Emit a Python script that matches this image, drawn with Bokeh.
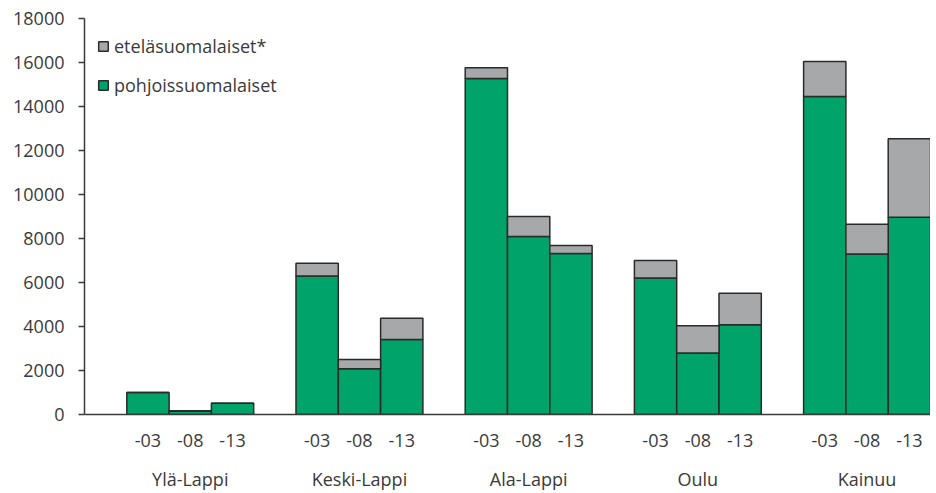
from bokeh.plotting import figure
from bokeh.models import LinearAxis, FixedTicker, Range1d, ColumnDataSource, Legend, LegendItem
from bokeh.embed import file_html
from bokeh.resources import INLINE

regions = ["Ylä-Lappi", "Keski-Lappi", "Ala-Lappi", "Oulu", "Kainuu"]
years = ["-03", "-08", "-13"]
# pohjoissuomalaiset (green) per region, per year
pohjoiset = [
    [1000, 150, 510],
    [6300, 2080, 3410],
    [15270, 8090, 7320],
    [6210, 2790, 4080],
    [14450, 7290, 8970],
]
# eteläsuomalaiset* (grey) per region, per year
etelaiset = [
    [0, 20, 0],
    [580, 420, 970],
    [490, 910, 360],
    [790, 1240, 1430],
    [1600, 1360, 3560],
]
y_ticks = [0, 2000, 4000, 6000, 8000, 10000, 12000, 14000, 16000, 18000]

GREEN = "#00A36A"
GREY = "#A7A8AA"
EDGE = "#2B2A2B"
TEXT = "#3A3A3A"
FONT = "Open Sans"
FS = "18px"

xs, green, grey, xlabels = [], [], [], {}
for gi, reg in enumerate(regions):
    for yi, yr in enumerate(years):
        x = gi * 4 + yi + 1.5
        xs.append(x)
        green.append(pohjoiset[gi][yi])
        grey.append(etelaiset[gi][yi])
        xlabels[x] = yr
group_centers = {gi * 4 + 2.5: reg for gi, reg in enumerate(regions)}

src = ColumnDataSource(dict(x=xs, pohjoiset=green, etelaiset=grey))

p = figure(width=930, height=493, output_backend="svg", toolbar_location=None,
           x_range=Range1d(0, 20), y_range=Range1d(0, 18000),
           min_border_left=84, min_border_right=0, min_border_top=18, min_border_bottom=79,
           x_axis_type=None)
p.outline_line_color = None
p.grid.visible = False
p.background_fill_color = "white"
p.border_fill_color = "white"

rs = p.vbar_stack(["pohjoiset", "etelaiset"], x="x", width=1.0, source=src,
                  fill_color=[GREEN, GREY], line_color=EDGE, line_width=1.5)

# y axis
ya = p.yaxis[0]
ya.ticker = FixedTicker(ticks=y_ticks)
ya.minor_tick_line_color = None
ya.major_tick_in = 0
ya.major_tick_out = 6
ya.major_label_standoff = 14
ya.axis_line_color = TEXT
ya.axis_line_width = 1.5
ya.major_tick_line_color = TEXT
ya.major_tick_line_width = 1.5
ya.major_label_text_font = FONT
ya.major_label_text_font_size = FS
ya.major_label_text_color = TEXT

# x axis: years
xa = LinearAxis(ticker=FixedTicker(ticks=xs), major_label_overrides=xlabels)
xa.major_tick_line_color = None
xa.minor_tick_line_color = None
xa.major_tick_out = 0
xa.major_tick_in = 0
xa.major_label_standoff = 19
xa.axis_line_color = TEXT
xa.axis_line_width = 1.5
xa.major_label_text_font = FONT
xa.major_label_text_font_size = FS
xa.major_label_text_color = TEXT
p.add_layout(xa, "below")

# x axis: regions
ga = LinearAxis(ticker=FixedTicker(ticks=list(group_centers.keys())),
                major_label_overrides=group_centers)
ga.axis_line_color = None
ga.major_tick_line_color = None
ga.minor_tick_line_color = None
ga.major_tick_out = 0
ga.major_tick_in = 0
ga.major_label_standoff = 17
ga.major_label_text_font = FONT
ga.major_label_text_font_size = FS
ga.major_label_text_color = TEXT
p.add_layout(ga, "below")

legend = Legend(items=[LegendItem(label="eteläsuomalaiset*", renderers=[rs[1]]),
                       LegendItem(label="pohjoissuomalaiset", renderers=[rs[0]])],
                location="top_left")
legend.margin = 13
legend.padding = 0
legend.spacing = 9
legend.label_height = 30
legend.glyph_height = 12
legend.glyph_width = 12
legend.label_standoff = 5
legend.border_line_color = None
legend.background_fill_alpha = 0
legend.label_text_font = FONT
legend.label_text_font_size = FS
legend.label_text_color = TEXT
p.add_layout(legend, "center")

open("out.html", "w").write(file_html(p, INLINE))
